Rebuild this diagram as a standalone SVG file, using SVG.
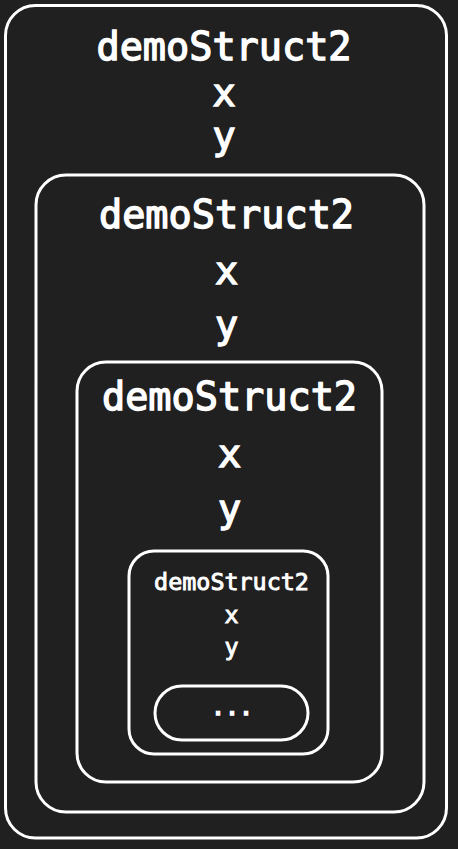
<svg xmlns="http://www.w3.org/2000/svg" width="458" height="849" viewBox="0 0 458 849">
<style>
.box{fill:none;stroke:#ffffff;stroke-width:3}
.t{fill:#ffffff;stroke:#ffffff;stroke-width:1.4;font-family:"DejaVu Sans Mono","Liberation Mono",monospace;text-anchor:middle}
.big{font-size:38.5px}
.sm{font-size:23.4px;stroke-width:0.9}
.dots{stroke-width:1.6}
</style>
<rect width="458" height="849" fill="#202020"/>
<g id="node1">
<rect class="box" x="5.5" y="5.5" width="441" height="832.5" rx="30"/>
<text class="t big" x="224" y="60">demoStruct2</text>
<text class="t big" x="224" y="106">x</text>
<text class="t big" x="224" y="149">y</text>
</g>
<g id="node2">
<rect class="box" x="36" y="175" width="388" height="637" rx="30"/>
<text class="t big" x="226.5" y="228">demoStruct2</text>
<text class="t big" x="226.5" y="284">x</text>
<text class="t big" x="226.5" y="338">y</text>
</g>
<g id="node3">
<rect class="box" x="77" y="362" width="305" height="420" rx="29"/>
<text class="t big" x="229.5" y="410">demoStruct2</text>
<text class="t big" x="229.5" y="467">x</text>
<text class="t big" x="229.5" y="522">y</text>
</g>
<g id="node4">
<rect class="box" x="129" y="551" width="199" height="203" rx="25"/>
<text class="t sm" x="231.5" y="590">demoStruct2</text>
<text class="t sm" x="231.5" y="623">x</text>
<text class="t sm" x="231.5" y="655">y</text>
</g>
<g id="node5">
<rect class="box" x="155" y="686" width="153" height="54" rx="27"/>
<text class="t sm dots" x="232" y="715">...</text>
</g>
<g id="connectors"></g>
</svg>
